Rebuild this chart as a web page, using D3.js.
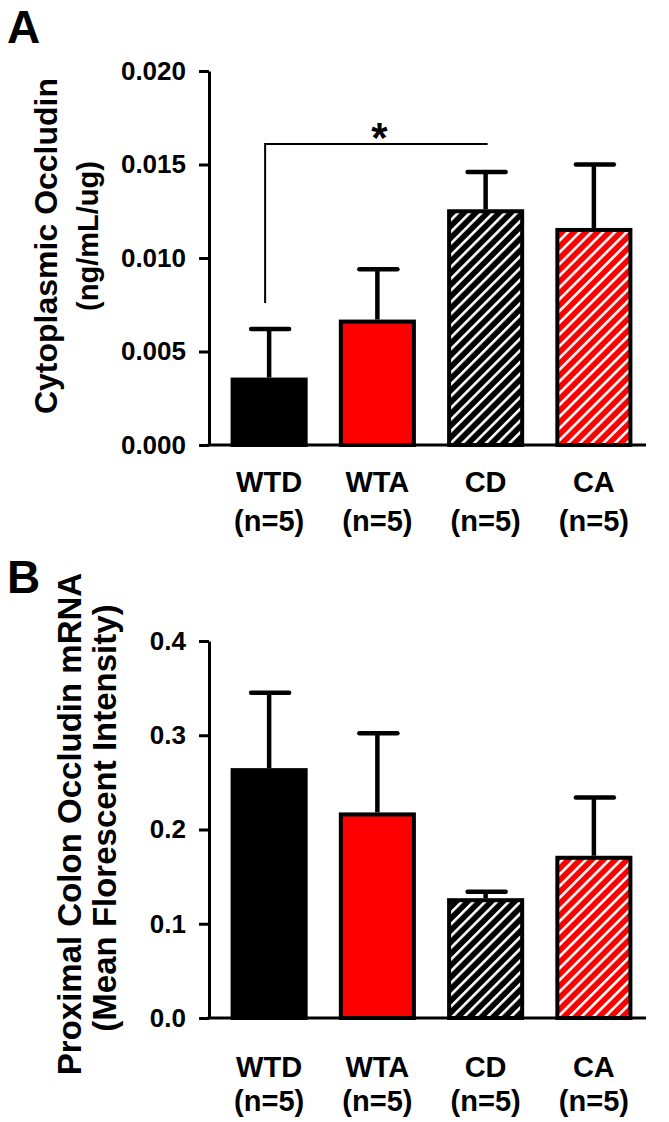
<!DOCTYPE html>
<html>
<head>
<meta charset="utf-8">
<script src="https://cdnjs.cloudflare.com/ajax/libs/d3/7.8.5/d3.min.js"></script>
<style>
  html, body { margin: 0; padding: 0; background: #fff; }
  svg { display: block; }
  text { font-family: "Liberation Sans", Arial, Helvetica, sans-serif; font-weight: bold; fill: #000; }
</style>
</head>
<body>
<script>
// ---------- DATA ----------
const categories = ["WTD", "WTA", "CD", "CA"];
const sampleLabels = ["(n=5)", "(n=5)", "(n=5)", "(n=5)"];
const fillKinds = ["solid-black", "solid-red", "hatch-black", "hatch-red"];

// Panel A: Cytoplasmic Occludin (ng/mL/ug)
const occludinMean = [0.0035, 0.0066, 0.0125, 0.0115];
const occludinErr  = [0.0027, 0.0028, 0.0021, 0.0035];
const occludinTicks = [0, 0.005, 0.010, 0.015, 0.020];
const occludinTitle = ["Cytoplasmic Occludin", "(ng/mL/ug)"];
// significance bracket WTD vs CD
const sigFrom = "WTD", sigTo = "CD";
const sigLevel = 0.0161, sigLeftBottom = 0.0076, sigMark = "*";

// Panel B: Proximal Colon Occludin mRNA (MFI)
const mrnaMean = [0.263, 0.216, 0.125, 0.170];
const mrnaErr  = [0.082, 0.086, 0.009, 0.064];
const mrnaTicks = [0, 0.1, 0.2, 0.3, 0.4];
const mrnaTitle = ["Proximal Colon Occludin mRNA", "(Mean Florescent Intensity)"];

// ---------- DRAW ----------
const W = 669, H = 1122;
const svg = d3.select("body").append("svg").attr("width", W).attr("height", H);
svg.append("rect").attr("width", W).attr("height", H).attr("fill", "#fff");

const defs = svg.append("defs");
function hatch(id, color) {
  const p = defs.append("pattern").attr("id", id)
    .attr("patternUnits", "userSpaceOnUse")
    .attr("width", 8.3).attr("height", 8.3)
    .attr("patternTransform", "rotate(45)");
  p.append("rect").attr("width", 8.3).attr("height", 8.3).attr("fill", color);
  p.append("rect").attr("x", 0).attr("width", 2.6).attr("height", 8.3).attr("fill", "#fff");
}
hatch("hatch-black", "#000");
hatch("hatch-red", "#ff0000");
const fillFor = k => k === "solid-black" ? "#000" : k === "solid-red" ? "#ff0000" : `url(#${k})`;

const axisX = 209;
const x = d3.scaleBand().domain(categories).range([215, 648]);
const barW = x.step() * 0.675;
const cx = c => x(c) + x.bandwidth() / 2;

function panel(opts) {
  const { means, errs, y, ticks, fmt, title, titlePos, titleSize, labelY, letter, letterY } = opts;
  const g = svg.append("g");

  // bars
  g.selectAll("rect.bar").data(categories).join("rect")
    .attr("class", "bar")
    .attr("x", c => cx(c) - barW / 2)
    .attr("width", barW)
    .attr("y", (c, i) => y(means[i]))
    .attr("height", (c, i) => y(0) - y(means[i]))
    .attr("fill", (c, i) => fillFor(fillKinds[i]))
    .attr("stroke", "#000").attr("stroke-width", 4);

  // error bars
  g.selectAll("line.stem").data(categories).join("line")
    .attr("x1", c => cx(c)).attr("x2", c => cx(c))
    .attr("y1", (c, i) => y(means[i]) - 2)
    .attr("y2", (c, i) => y(means[i] + errs[i]))
    .attr("stroke", "#000").attr("stroke-width", 4.5);
  g.selectAll("line.cap").data(categories).join("line")
    .attr("x1", c => cx(c) - 18).attr("x2", c => cx(c) + 20)
    .attr("y1", (c, i) => y(means[i] + errs[i]))
    .attr("y2", (c, i) => y(means[i] + errs[i]))
    .attr("stroke", "#000").attr("stroke-width", 4.5).attr("stroke-linecap", "round");

  // y axis
  const ax = g.append("g").attr("transform", `translate(${axisX},0)`)
    .call(d3.axisLeft(y).tickValues(ticks).tickFormat(d3.format(fmt))
      .tickSize(10).tickSizeOuter(0).tickPadding(13));
  ax.select(".domain").attr("stroke-width", 3);
  ax.selectAll(".tick line").attr("stroke-width", 3);
  ax.selectAll(".tick text").attr("font-size", 26)
    .attr("font-family", '"Liberation Sans", Arial, sans-serif').attr("font-weight", "bold");

  // x baseline
  g.append("line").attr("x1", axisX - 1.5).attr("x2", x.range()[1] - 2)
    .attr("y1", y(0)).attr("y2", y(0))
    .attr("stroke", "#000").attr("stroke-width", 3);

  // x labels
  categories.forEach((c, i) => {
    g.append("text").attr("x", cx(c)).attr("y", labelY[0]).attr("text-anchor", "middle")
      .attr("font-size", 29).text(c);
    g.append("text").attr("x", cx(c)).attr("y", labelY[1]).attr("text-anchor", "middle")
      .attr("font-size", 29).text(sampleLabels[i]);
  });

  // y title
  title.forEach((t, i) => {
    g.append("text").attr("transform", `translate(${titlePos[i][0]},${titlePos[i][1]}) rotate(-90)`)
      .attr("text-anchor", "middle").attr("font-size", titleSize[i]).text(t);
  });

  // panel letter
  g.append("text").attr("x", 7).attr("y", letterY).attr("font-size", 46).text(letter);
  return g;
}

const yA = d3.scaleLinear().domain([0, 0.02]).range([445, 71]);
const gA = panel({
  means: occludinMean, errs: occludinErr, y: yA, ticks: occludinTicks, fmt: ".3f",
  title: occludinTitle, titlePos: [[57, 246], [98, 236]], titleSize: [32, 29],
  labelY: [492, 531], letter: "A", letterY: 43
});

// significance bracket
const bx1 = cx(sigFrom) - 4, bx2 = cx(sigTo) + 2;
gA.append("path")
  .attr("d", `M${bx1},${yA(sigLeftBottom)}V${yA(sigLevel)}H${bx2}`)
  .attr("fill", "none").attr("stroke", "#000").attr("stroke-width", 2);
gA.append("text").attr("x", (bx1 + bx2) / 2 + 3).attr("y", yA(sigLevel) + 8)
  .attr("text-anchor", "middle").attr("font-size", 42).text(sigMark);

const yB = d3.scaleLinear().domain([0, 0.4]).range([1018, 641]);
panel({
  means: mrnaMean, errs: mrnaErr, y: yB, ticks: mrnaTicks, fmt: ".1f",
  title: mrnaTitle, titlePos: [[81, 824], [116, 818]], titleSize: [33, 33],
  labelY: [1077, 1111], letter: "B", letterY: 593
});
</script>
</body>
</html>
